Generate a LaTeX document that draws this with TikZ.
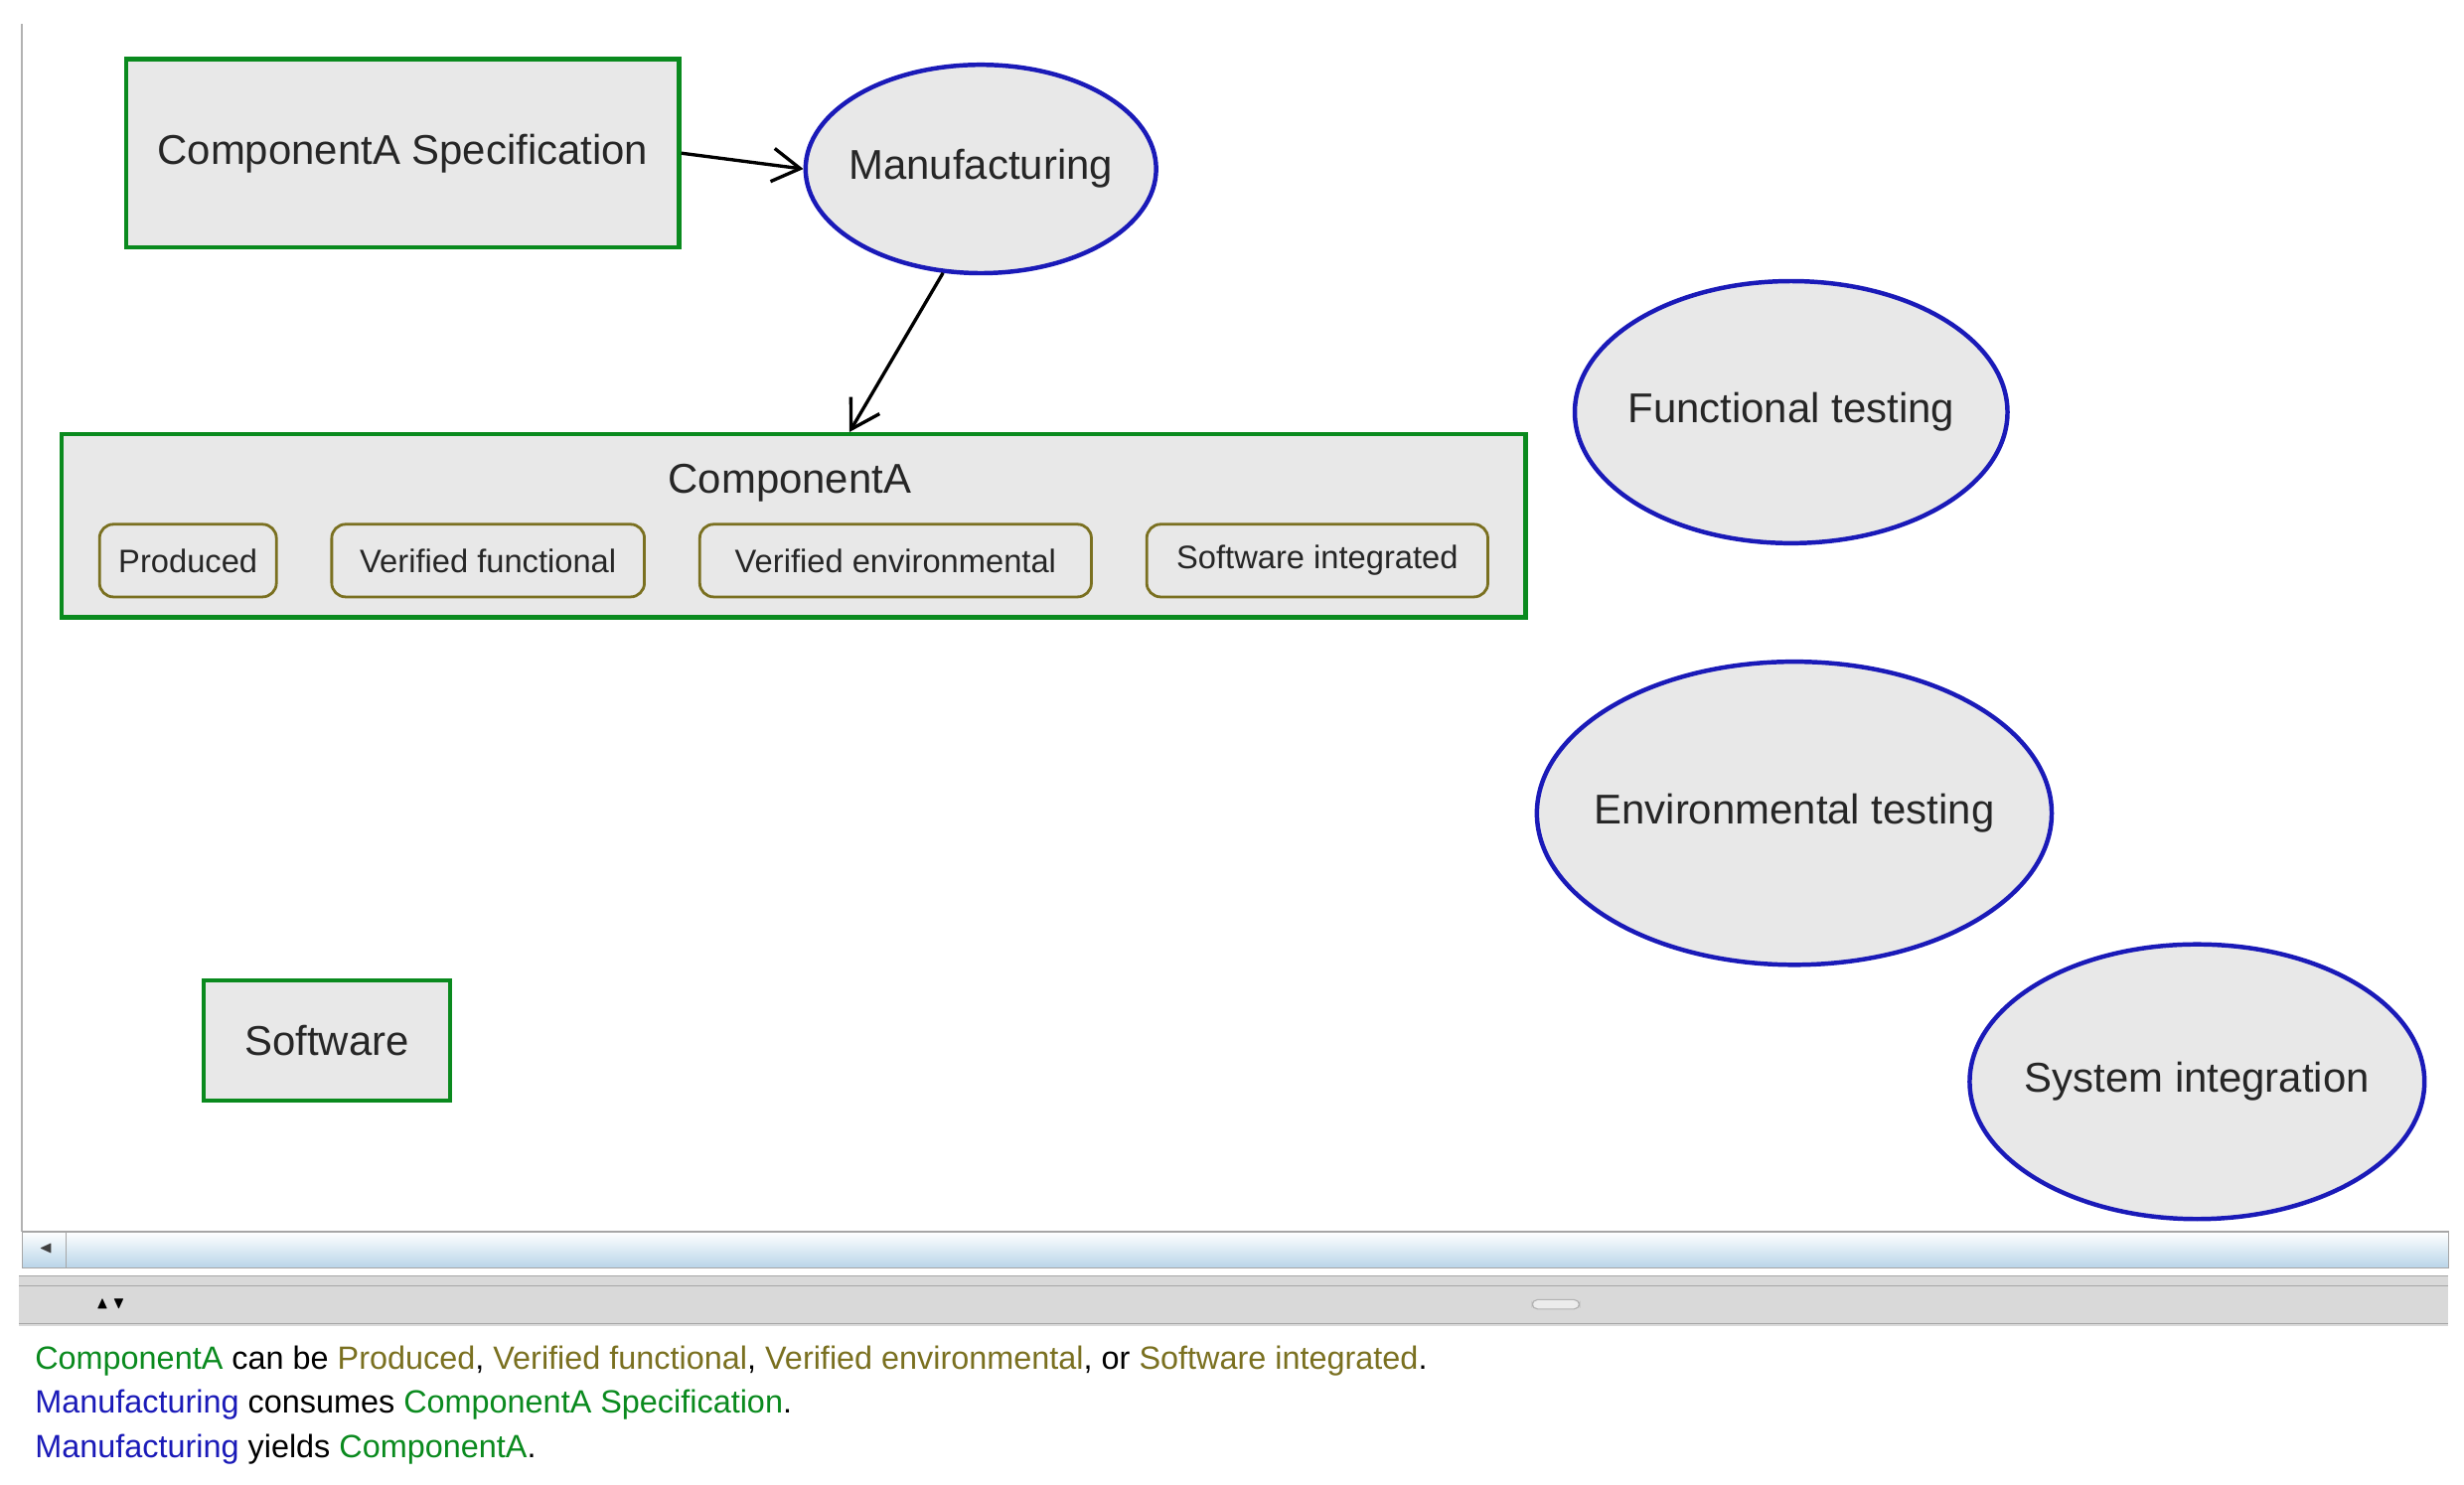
\documentclass[tikz,border=0pt]{standalone}
\usepackage{amssymb}
\usepackage{fontspec}
\setmainfont{Liberation Sans}
\usetikzlibrary{shapes.geometric,arrows.meta,calc}
\definecolor{boxfill}{HTML}{E8E8E8}
\definecolor{artgreen}{HTML}{0A8A1E}
\definecolor{procblue}{HTML}{1A1AB8}
\definecolor{stateol}{HTML}{7A7020}
\definecolor{scrollb}{HTML}{B8D4E8}
\tikzset{
  artifact/.style={rectangle, draw=artgreen, line width=1.6pt, fill=boxfill, text=black!85, font=\fontsize{15}{17}\selectfont},
  process/.style={ellipse, draw=procblue, line width=1.6pt, fill=boxfill, inner xsep=-12pt, inner ysep=0pt, text=black!85, font=\fontsize{15}{17}\selectfont},
  state/.style={rectangle, rounded corners=5pt, draw=stateol, line width=1pt, fill=boxfill, text=black!85, minimum height=0.92cm, font=\fontsize{11.7}{13}\selectfont},
  link/.style={draw, line width=1.2pt, -{Straight Barb[length=10pt,width=12pt]}},
  msg/.style={anchor=base west, font=\fontsize{11.6}{13}\selectfont}
}
\begin{document}
\begin{tikzpicture}[x=0.02cm,y=-0.02cm]
  \useasboundingbox (0,0) rectangle (1560,940);
  % canvas edge and scroll bar
  \draw[gray!60, thick] (14,15) -- (14,780);
  \shade[top color=white, bottom color=scrollb] (14,780) rectangle (1550,803);
  \draw[gray!70] (14,780) rectangle (1550,803);
  \draw[gray!70] (42,780) -- (42,803);
  \node[font=\tiny, gray!50!black] (left) at (29,791) {$\blacktriangleleft$};
  \fill[gray!30] (12,808) rectangle (1550,840);
  \draw[gray!70] (12,808) -- (1550,808) (12,814) -- (1550,814) (12,838) -- (1550,838);
  \node[font=\fontsize{6}{6}\selectfont] (split) at (70,826) {$\blacktriangle\,\blacktriangledown$};
  \draw[gray!60, fill=gray!15, rounded corners=2pt] (970,823) rectangle (1000,829);

  % Place nodes
  \node[artifact, minimum width=7cm, minimum height=2.38cm] (spec) at (255,97) {ComponentA Specification};
  \node[process, minimum width=4.44cm, minimum height=2.64cm] (manu) at (621,107) {Manufacturing};
  \node[artifact, minimum width=18.54cm, minimum height=2.32cm] (compA) at (502.5,333) {};
  \node[font=\fontsize{15}{17}\selectfont, text=black!85] (compAlabel) at (500,306) {ComponentA};
  \node[state, minimum width=2.24cm] (produced) at (119,355) {Produced};
  \node[state, minimum width=3.96cm] (vfunc) at (309,355) {Verified functional};
  \node[state, minimum width=4.96cm] (venv) at (567,355) {Verified environmental};
  \node[state, minimum width=4.32cm] (swint) at (834,355) {Software integrated};
  \node[process, minimum width=5.48cm, minimum height=3.32cm] (functest) at (1134,261) {Functional testing};
  \node[process, minimum width=6.52cm, minimum height=3.84cm] (envtest) at (1136,515) {Environmental testing};
  \node[process, minimum width=5.76cm, minimum height=3.48cm] (sysint) at (1391,685) {System integration};
  \node[artifact, minimum width=3.12cm, minimum height=1.52cm] (software) at (207,659) {Software};

  \path[link] (spec.east) -- (manu.west);
  \path[link] (manu.250) -- ($(compA.north west)!0.538!(compA.north east)$);

  % status text
  \node[msg] (line1) at (16,867) {\textcolor{artgreen}{ComponentA} can be \textcolor{stateol}{Produced}, \textcolor{stateol}{Verified functional}, \textcolor{stateol}{Verified environmental}, or \textcolor{stateol}{Software integrated}.};
  \node[msg] (line2) at (16,895) {\textcolor{procblue}{Manufacturing} consumes \textcolor{artgreen}{ComponentA Specification}.};
  \node[msg] (line3) at (16,923) {\textcolor{procblue}{Manufacturing} yields \textcolor{artgreen}{ComponentA}.};
\end{tikzpicture}
\end{document}
